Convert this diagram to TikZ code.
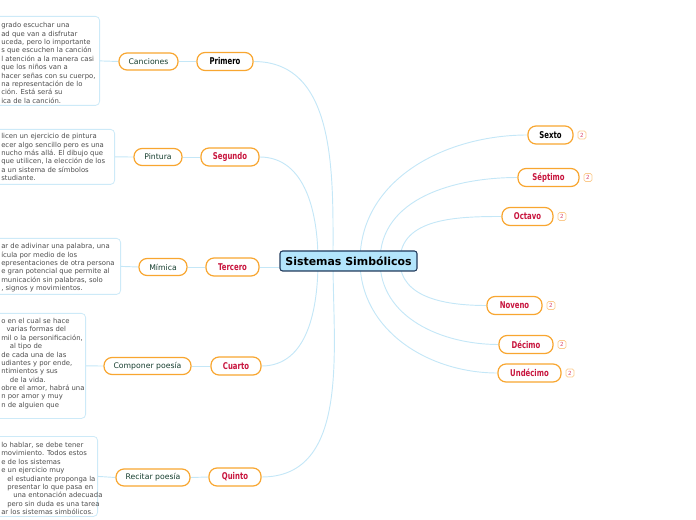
\documentclass[tikz,border=0pt]{standalone}
\usepackage{fontspec}
\setmainfont{DejaVu Sans}
\newfontfamily\narrowfont[FakeStretch=0.74]{DejaVu Sans}
\usetikzlibrary{positioning,calc,backgrounds}
\definecolor{linkblue}{HTML}{C4E7F7}
\definecolor{pillorange}{HTML}{F8A630}
\definecolor{crimson}{HTML}{C8153E}
\definecolor{leafgreen}{HTML}{173F30}
\definecolor{noteline}{HTML}{CDEAF8}
\definecolor{notetxt}{HTML}{4D4D4D}
\definecolor{cenfill}{HTML}{B3E5FC}
\definecolor{cenline}{HTML}{203A5C}
\definecolor{badgeline}{HTML}{FBCB8E}
\definecolor{badgetxt}{HTML}{D9486E}

\begin{document}
\begin{tikzpicture}[x=0.75pt, y=0.75pt,
  link/.style={linkblue, line width=0.7pt},
  central/.style={draw=cenline, fill=cenfill, line width=0.8pt, rounded corners=2pt,
    minimum width=102.75pt, minimum height=15pt, inner sep=0pt,
    font=\fontsize{8.2}{9}\selectfont\bfseries},
  pill/.style={draw=pillorange, fill=white, line width=0.9pt, rounded corners=6pt,
    minimum height=13.5pt, inner sep=0pt, text=crimson,
    font=\narrowfont\bfseries\fontsize{7}{8}\selectfont},
  leaf/.style={draw=pillorange, fill=white, line width=0.9pt, rounded corners=6pt,
    minimum height=12.75pt, inner sep=0pt, text=leafgreen,
    font=\fontsize{5.8}{7}\selectfont},
  notebox/.style={draw=noteline, fill=white, line width=0.6pt, rounded corners=3pt,
    anchor=north east},
  notetext/.style={anchor=north west, inner sep=0pt, align=left, text=notetxt,
    font=\fontsize{5.15}{6.285}\selectfont},
  badge/.style={draw=badgeline, line width=0.5pt, rounded corners=1.2pt, minimum size=6pt,
    inner sep=0pt, text=badgetxt, font=\fontsize{4.2}{4.2}\selectfont}]
  \clip (0,0) rectangle (696,-520);

  \node[central] (cen) at (348.5,-261) {Sistemas Simbólicos};

  \node[pill, text=black, minimum width=42pt] (primero) at (225,-61.5) {Primero};
  \node[pill, minimum width=43.5pt] (segundo) at (230,-157) {Segundo};
  \node[pill, minimum width=39.75pt] (tercero) at (232.5,-267) {Tercero};
  \node[pill, minimum width=37.5pt] (cuarto) at (236,-366) {Cuarto};
  \node[pill, minimum width=39pt] (quinto) at (235,-477) {Quinto};

  \node[pill, text=black, minimum width=33.75pt] (sexto) at (550.5,-135) {Sexto};
  \node[pill, minimum width=45.75pt] (septimo) at (548.5,-177.5) {Séptimo};
  \node[pill, minimum width=38.25pt] (octavo) at (527.5,-216.5) {Octavo};
  \node[pill, minimum width=41.25pt] (noveno) at (514.5,-305.5) {Noveno};
  \node[pill, minimum width=40.5pt] (decimo) at (526,-344.5) {Décimo};
  \node[pill, minimum width=47.25pt] (undecimo) at (529.5,-373) {Undécimo};
  \foreach \n in {sexto,septimo,octavo,noveno,decimo,undecimo}
    \node[badge, right=3pt of \n] (b\n) {2};

  \node[leaf, minimum width=44.25pt] (canciones) at (148.5,-61.5) {Canciones};
  \node[leaf, minimum width=36pt] (pintura) at (158,-157) {Pintura};
  \node[leaf, minimum width=36pt] (mimica) at (163,-267) {Mímica};
  \node[leaf, minimum width=65.25pt] (componer) at (147.5,-366) {Componer poesía};
  \node[leaf, minimum width=55.5pt] (recitar) at (153,-477.5) {Recitar poesía};

  \node[notebox, minimum width=82.5pt, minimum height=66.75pt] (nota1) at (100,-16) {};
  \node[notebox, minimum width=93.75pt, minimum height=41.25pt] (nota2) at (115,-129) {};
  \node[notebox, minimum width=98.25pt, minimum height=42pt] (nota3) at (121,-238) {};
  \node[notebox, minimum width=72pt, minimum height=78.75pt] (nota4) at (86,-313) {};
  \node[notebox, minimum width=81pt, minimum height=60pt] (nota5) at (98,-436) {};

  \node[notetext] (texto1) at (1,-22.3) {grado escuchar una\\ad que van a disfrutar\\uceda, pero lo importante\\s que escuchen la canción\\l atención a la manera casi\\que los niños van a\\hacer señas con su cuerpo,\\na representación de lo\\ción. Está será su\\ica de la canción.};
  \node[notetext] (texto2) at (1,-133.3) {licen un ejercicio de pintura\\ecer algo sencillo pero es una\\nucho más allá. El dibujo que\\que utilicen, la elección de los\\a un sistema de símbolos\\studiante.};
  \node[notetext] (texto3) at (1,-243.3) {ar de adivinar una palabra, una\\ícula por medio de los\\epresentaciones de otra persona\\e gran potencial que permite al\\municación sin palabras, solo\\, signos y movimientos.};
  \node[notetext] (texto4) at (1,-318) {o en el cual se hace\\\hspace*{4pt}varias formas del\\mil o la personificación,\\\hspace*{6.5pt}al tipo de\\de cada una de las\\udiantes y por ende,\\ntimientos y sus\\\hspace*{6.5pt}de la vida.\\obre el amor, habrá una\\n por amor y muy\\n de alguien que};
  \node[notetext] (texto5) at (1,-442) {lo hablar, se debe tener\\movimiento. Todos estos\\e de los sistemas\\e un ejercicio muy\\\hspace*{4.5pt}el estudiante proponga la\\\hspace*{4.5pt}presentar lo que pasa en\\\hspace*{9pt}una entonación adecuada\\\hspace*{4.5pt}pero sin duda es una tarea\\ar los sistemas simbólicos.};

  \begin{scope}[on background layer]
    \draw[link] (primero.east) to[out=0, in=90] ($(cen.center)+(-15.5,0)$);
    \draw[link] (segundo.east) to[out=0, in=90] ($(cen.center)+(-30.5,0)$);
    \draw[link] (tercero.east) -- (tercero.east -| cen.west);
    \draw[link] (cuarto.east) to[out=0, in=-90] ($(cen.center)+(-30.5,0)$);
    \draw[link] (quinto.east) to[out=0, in=-90] ($(cen.center)+(-15.5,0)$);
    \draw[link] (sexto.west) to[out=180, in=90] ($(cen.center)+(11.5,0)$);
    \draw[link] (septimo.west) to[out=180, in=90] ($(cen.center)+(31.5,0)$);
    \draw[link] (octavo.west) to[out=180, in=90] ($(cen.center)+(51.5,0)$);
    \draw[link] (noveno.west) to[out=180, in=-90] ($(cen.center)+(51.5,0)$);
    \draw[link] (decimo.west) to[out=180, in=-90] ($(cen.center)+(31.5,0)$);
    \draw[link] (undecimo.west) to[out=180, in=-90] ($(cen.center)+(11.5,0)$);
    \draw[link] (primero.west) -- (canciones.east);
    \draw[link] (segundo.west) -- (pintura.east);
    \draw[link] (tercero.west) -- (mimica.east);
    \draw[link] (cuarto.west) -- (componer.east);
    \draw[link] (quinto.west) -- (recitar.east);
    \draw[link] (canciones.west) -- (nota1.east);
    \draw[link] (pintura.west) -- (nota2.east);
    \draw[link] (mimica.west) -- (nota3.east);
    \draw[link] (componer.west) -- (nota4.east);
    \draw[link] (recitar.west) -- (nota5.east);
  \end{scope}
\end{tikzpicture}
\end{document}
